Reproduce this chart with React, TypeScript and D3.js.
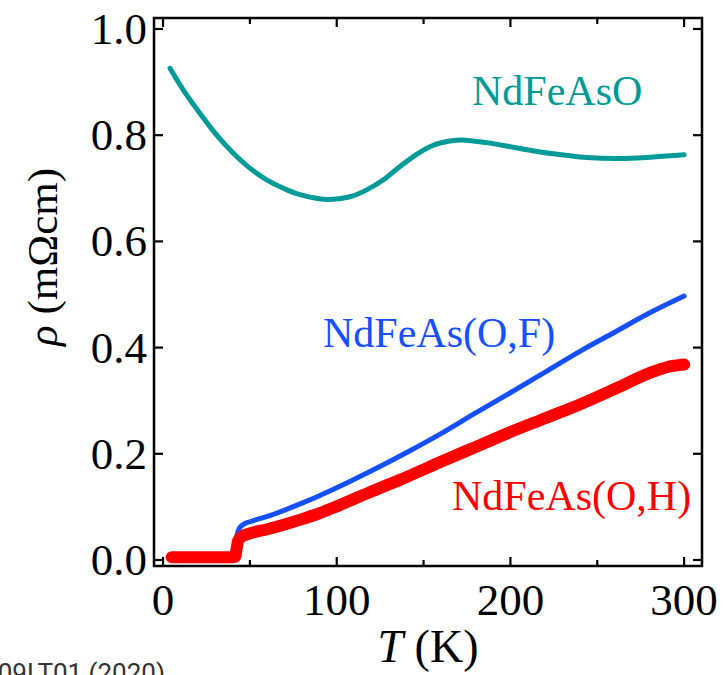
import React from "react";
import * as d3 from "d3";

// Resistivity vs temperature, [T (K), rho (mOhm cm)]
const ndFeAsO: [number, number][] = [
  [4, 0.926], [11.7, 0.885], [21.3, 0.841], [30.9, 0.8], [40.5, 0.766],
  [50, 0.738], [59.7, 0.716], [69.3, 0.7], [78.9, 0.688], [94.2, 0.679],
  [107.7, 0.684], [117.3, 0.697], [126.9, 0.716], [136.4, 0.741],
  [146, 0.764], [155.6, 0.781], [165, 0.789], [172, 0.791], [186.3, 0.786],
  [205.5, 0.775], [224.7, 0.765], [243.9, 0.758], [263, 0.756],
  [282.3, 0.759], [300, 0.763],
];

const ndFeAsOF: [number, number][] = [
  [5, 0.004], [20, 0.004], [35, 0.004], [40.5, 0.005], [41.5, 0.02],
  [42.5, 0.045], [44, 0.06], [46.2, 0.067], [50, 0.072], [60, 0.082],
  [70, 0.094], [80, 0.107], [90, 0.121], [100, 0.136], [120, 0.168],
  [140, 0.202], [160, 0.238], [180, 0.277], [200, 0.315], [220, 0.354],
  [240, 0.393], [260, 0.429], [280, 0.465], [300, 0.497],
];

const ndFeAsOH: [number, number][] = [
  [5, 0.005], [12, 0.005], [20, 0.005], [30, 0.005], [38, 0.005],
  [41.5, 0.006], [42.3, 0.02], [43.2, 0.036], [45.3, 0.044], [50, 0.05],
  [60, 0.058], [70, 0.067], [80, 0.077], [90, 0.088], [100, 0.101],
  [120, 0.129], [140, 0.156], [160, 0.185], [180, 0.213], [200, 0.241],
  [220, 0.267], [240, 0.293], [260, 0.322], [280, 0.352], [290, 0.363],
  [300, 0.368],
];

const xMajorTicks = [0, 100, 200, 300];
const xMinorTicks = [50, 150, 250];
const yTicks = [0, 0.2, 0.4, 0.6, 0.8, 1.0];

const seriesLabels = ["NdFeAsO", "NdFeAs(O,F)", "NdFeAs(O,H)"];
const seriesColors = ["#009b98", "#1450ff", "#ff0000"];

const W = 725;
const H = 675;
const left = 154;
const right = 702;
const top = 18;
const bottom = 566;

export default function App() {
  const x = d3.scaleLinear().domain([-5.2, 310.3]).range([left, right]);
  const y = d3.scaleLinear().domain([-0.0113, 1.0207]).range([bottom, top]);

  const smooth = d3
    .line<[number, number]>()
    .x((d) => x(d[0]))
    .y((d) => y(d[1]))
    .curve(d3.curveCatmullRom.alpha(0.5));

  const stepped = d3
    .line<[number, number]>()
    .x((d) => x(d[0]))
    .y((d) => y(d[1]))
    .curve(d3.curveMonotoneX);

  const serif = "'Liberation Serif', 'Times New Roman', serif";
  const majorLen = 9;
  const minorLen = 6;

  return (
    <svg
      width={W}
      height={H}
      style={{ position: "absolute", left: 0, top: 0, background: "#fff" }}
      fontFamily={serif}
    >
      {/* curves */}
      <path d={smooth(ndFeAsO) ?? ""} fill="none" stroke={seriesColors[0]} strokeWidth={5} strokeLinecap="round" strokeLinejoin="round" />
      <path d={stepped(ndFeAsOF) ?? ""} fill="none" stroke={seriesColors[1]} strokeWidth={5} strokeLinecap="round" strokeLinejoin="round" />
      <path d={stepped(ndFeAsOH) ?? ""} fill="none" stroke={seriesColors[2]} strokeWidth={12} strokeLinecap="round" strokeLinejoin="round" />

      {/* series labels */}
      <text x={472} y={105} fontSize={42} fill={seriesColors[0]}>{seriesLabels[0]}</text>
      <text x={323} y={347} fontSize={42} fill={seriesColors[1]}>{seriesLabels[1]}</text>
      <text x={452} y={510} fontSize={42} fill={seriesColors[2]}>{seriesLabels[2]}</text>

      {/* frame */}
      <rect x={left} y={top} width={right - left} height={bottom - top} fill="none" stroke="#000" strokeWidth={2.5} />

      {/* x ticks, bottom and top */}
      {xMajorTicks.map((t) => (
        <g key={"xM" + t}>
          <line x1={x(t)} x2={x(t)} y1={bottom} y2={bottom - majorLen} stroke="#000" strokeWidth={2.2} />
          <line x1={x(t)} x2={x(t)} y1={top} y2={top + majorLen} stroke="#000" strokeWidth={2.2} />
          <text x={x(t)} y={615} fontSize={45} textAnchor="middle" fill="#000">{t}</text>
        </g>
      ))}
      {xMinorTicks.map((t) => (
        <g key={"xm" + t}>
          <line x1={x(t)} x2={x(t)} y1={bottom} y2={bottom - minorLen} stroke="#000" strokeWidth={2.2} />
          <line x1={x(t)} x2={x(t)} y1={top} y2={top + minorLen} stroke="#000" strokeWidth={2.2} />
        </g>
      ))}

      {/* y ticks, left and right */}
      {yTicks.map((t) => (
        <g key={"y" + t}>
          <line x1={left} x2={left + majorLen} y1={y(t)} y2={y(t)} stroke="#000" strokeWidth={2.2} />
          <line x1={right} x2={right - majorLen} y1={y(t)} y2={y(t)} stroke="#000" strokeWidth={2.2} />
          <text x={147} y={y(t) + 15} fontSize={45} textAnchor="end" fill="#000">{t.toFixed(1)}</text>
        </g>
      ))}

      {/* axis titles */}
      <text x={428} y={662} fontSize={46} textAnchor="middle" fill="#000">
        <tspan fontStyle="italic">T</tspan> (K)
      </text>
      <text transform={`translate(57,${257}) rotate(-90)`} fontSize={43} textAnchor="middle" fill="#000">
        <tspan fontStyle="italic">ρ</tspan> (mΩcm)
      </text>

      {/* source note */}
      <text x={165} y={682} fontSize={26} textAnchor="end" fill="#333" fontFamily="Roboto, 'Noto Sans', sans-serif">
        09LT01 (2020)
      </text>
    </svg>
  );
}
